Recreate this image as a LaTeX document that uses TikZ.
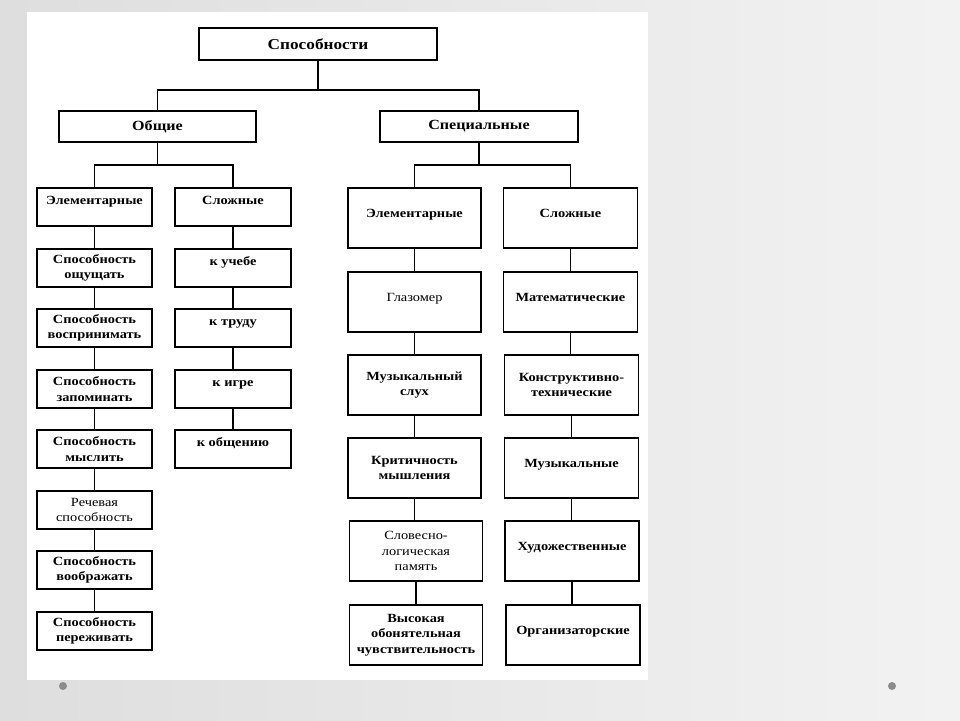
\documentclass[tikz,border=0pt]{standalone}
\usepackage{fontspec}
\setmainfont{Liberation Serif}[FakeStretch=1.15]
\begin{document}
\begin{tikzpicture}[x=1pt,y=-1pt,
  box/.style={draw=black,line width=1.3pt,inner sep=0pt,align=center,font=\bfseries\fontsize{12.5}{15.5}\selectfont},
  colA/.style={box,minimum width=115pt,minimum height=38pt},
  colB/.style={box,minimum width=116pt,minimum height=38pt},
  colC/.style={box,minimum width=133pt,minimum height=60pt},
  colD/.style={box,minimum width=134pt,minimum height=60pt},
  upA/.style={text height=9pt,text depth=14pt},
  upC/.style={text height=9pt,text depth=10pt},
  light/.style={font=\fontsize{12.5}{15.5}\selectfont},
  conn/.style={line width=1.3pt,black},
  dot/.style={fill=black!45,draw=none}]
\useasboundingbox (0,0) rectangle (960,720);
\shade[left color=black!13,right color=black!5] (0,0) rectangle (960,720);
\fill[white] (27,12) rectangle (648,680);
\fill[dot] (63,686) circle (4);
\fill[dot] (892,686) circle (4);

% top levels
\node[box,minimum width=238pt,minimum height=32pt,font=\bfseries\fontsize{15}{18}\selectfont] (top) at (318,44) {Способности};
\node[box,minimum width=197pt,minimum height=31pt,font=\bfseries\fontsize{14}{17}\selectfont] (gen) at (157.5,126.5) {Общие};
\node[box,minimum width=198pt,minimum height=31pt,font=\bfseries\fontsize{14}{17}\selectfont] (spec) at (479,126.5) {Специальные};

% left column A
\node[colA,upA] (a0) at (94.5,207) {Элементарные};
\node[colA] (a1) at (94.5,268) {Способность\\ощущать};
\node[colA] (a2) at (94.5,328) {Способность\\воспринимать};
\node[colA] (a3) at (94.5,389) {Способность\\запоминать};
\node[colA] (a4) at (94.5,449) {Способность\\мыслить};
\node[colA,light] (a5) at (94.5,510) {Речевая\\способность};
\node[colA] (a6) at (94.5,570) {Способность\\воображать};
\node[colA] (a7) at (94.5,631) {Способность\\переживать};

% left column B
\node[colB,upA] (b0) at (233,207) {Сложные};
\node[colB,upA] (b1) at (233,268) {к учебе};
\node[colB,upA] (b2) at (233,328) {к труду};
\node[colB,upA] (b3) at (233,389) {к игре};
\node[colB,upA] (b4) at (233,449) {к общению};

% right column C
\node[colC,upC] (c0) at (414.5,218) {Элементарные};
\node[colC,upC,light] (c1) at (414.5,302) {Глазомер};
\node[colC] (c2) at (414.5,385) {Музыкальный\\слух};
\node[colC] (c3) at (414.5,468) {Критичность\\мышления};
\node[colC,light] (c4) at (416,551) {Словесно-\\логическая\\память};
\node[colC] (c5) at (416,635) {Высокая\\обонятельная\\чувствительность};

% right column D
\node[colD,upC] (d0) at (570.5,218) {Сложные};
\node[colD,upC] (d1) at (570.5,302) {Математические};
\node[colD] (d2) at (571.5,385) {Конструктивно-\\технические};
\node[colD,upC] (d3) at (571.5,468) {Музыкальные};
\node[colD,upC] (d4) at (572,551) {Художественные};
\node[colD,upC] (d5) at (573,635) {Организаторские};

% connectors
\draw[conn] (top.south) -- (top.south |- 0,90) -| (gen.north);
\draw[conn] (top.south |- 0,90) -| (spec.north);
\draw[conn] (gen.south) -- (gen.south |- 0,165) -| (a0.north);
\draw[conn] (gen.south |- 0,165) -| (b0.north);
\draw[conn] (spec.south) -- (spec.south |- 0,165) -| (c0.north);
\draw[conn] (spec.south |- 0,165) -| (d0.north);
\foreach \p/\q in {a0/a1,a1/a2,a2/a3,a3/a4,a4/a5,a5/a6,a6/a7,b0/b1,b1/b2,b2/b3,b3/b4}
  \draw[conn] (\p.south) -- (\q.north);
\foreach \p/\q in {c0/c1,c1/c2,c2/c3,c3/c4,c4/c5,d0/d1,d1/d2,d2/d3,d3/d4,d4/d5}
  \draw[conn] (\p.south) -- (\p.south |- \q.north);
\end{tikzpicture}
\end{document}
